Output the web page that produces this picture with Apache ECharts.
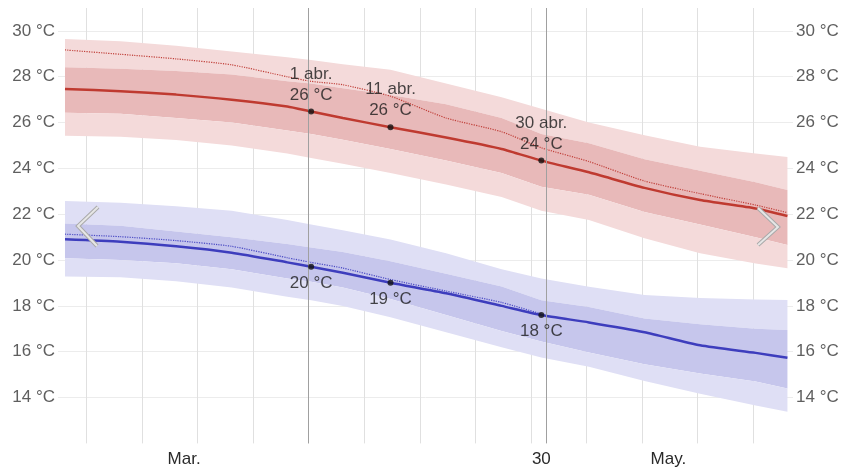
<!DOCTYPE html>
<html><head><meta charset="utf-8">
<script src="https://cdn.jsdelivr.net/npm/echarts@6/dist/echarts.min.js"></script>
<style>html,body{margin:0;padding:0;background:#fff}#c{width:846px;height:471px}</style>
</head><body><div id="c"></div>
<script>
// days relative to 1 abr.
const days = [-31,-24,-17,-10,-3,0,4,10,17,24,29,35,42,49,56,60];
// daily high temperature (°C)
const highP90  = [29.65,29.55,29.35,29.1,28.85,28.73,28.55,28.3,27.7,27.1,26.6,26.0,25.45,24.95,24.65,24.5];
const highP75  = [28.41,28.35,28.25,28.1,27.8,27.7,27.5,27.2,26.8,26.2,25.5,25.1,24.4,23.9,23.4,23.06];
const highMean = [27.47,27.37,27.22,27.0,26.7,26.48,26.2,25.8,25.35,24.85,24.34,23.83,23.15,22.62,22.25,21.92];
const highP25  = [26.43,26.38,26.2,26.0,25.65,25.5,25.25,24.85,24.35,23.8,23.2,22.85,22.1,21.55,21.0,20.66];
const highP10  = [25.43,25.38,25.24,25.0,24.65,24.45,24.2,23.8,23.3,22.75,22.15,21.75,20.95,20.3,19.85,19.64];
const highDot  = [29.17,28.98,28.78,28.52,28.0,27.8,27.65,27.15,26.2,25.6,24.9,24.3,23.45,22.9,22.4,22.07];
// daily low temperature (°C)
const lowP90  = [22.58,22.5,22.35,22.15,21.75,21.55,21.3,20.9,20.3,19.6,19.2,18.84,18.48,18.35,18.28,18.26];
const lowP75  = [21.6,21.5,21.25,21.0,20.7,20.55,20.35,19.95,19.4,18.85,18.25,17.95,17.45,17.2,17.0,16.95];
const lowMean = [20.91,20.8,20.6,20.32,19.9,19.71,19.45,19.01,18.55,18.0,17.6,17.28,16.85,16.28,15.95,15.74];
const lowP25  = [20.08,20.0,19.86,19.6,19.2,19.05,18.8,18.3,17.6,16.9,16.45,15.97,15.45,15.05,14.7,14.4];
const lowP10  = [19.28,19.25,19.08,18.8,18.4,18.25,18.0,17.5,16.85,16.2,15.75,15.35,14.72,14.17,13.65,13.38];
const lowDot  = [21.13,21.02,20.85,20.6,20.1,19.9,19.65,19.15,18.65,18.15,17.65,null,null,null,null,null];
// annotations
const markDays = [0, 10, 29];
const markNames = ['1 abr.', '11 abr.', '30 abr.'];
// axes
const weekTicks = [-28.3,-21.3,-14.3,-7.3,-0.3,6.7,13.7,20.7,27.7,34.7,41.7,48.7,55.7];
const highlightDays = [-0.3, 29.6];
const xLabelDays = [-16, 29, 45];
const xLabelTexts = ['Mar.', '30', 'May.'];
const yMin = 12, yMax = 31, yStep = 2, yLabelMin = 14, yLabelMax = 30;

const FONT = '"Liberation Sans", Arial, sans-serif';
const pairs = (arr) => days.map((d, i) => [d, arr[i]]).filter(p => p[1] !== null);

function band(upper, lower, color) {
  return {
    type: 'custom', silent: true, z: 1,
    data: [[0, 0]],
    renderItem: (params, api) => {
      const top = days.map((d, i) => api.coord([d, upper[i]]));
      const bot = days.map((d, i) => api.coord([d, lower[i]])).reverse();
      return { type: 'polygon', shape: { points: top.concat(bot) }, style: { fill: color } };
    }
  };
}
function line(arr, color, width, type) {
  return {
    type: 'line', data: pairs(arr), showSymbol: false, smooth: 0.2, silent: true, z: 3,
    lineStyle: { color: color, width: width, type: type || 'solid' }
  };
}
function dots(arr, above, withDate) {
  return {
    type: 'scatter', z: 5, silent: true, symbolSize: 6,
    itemStyle: { color: '#111' },
    data: markDays.map((d, k) => {
      const v = arr[days.indexOf(d)];
      return { value: [d, v], name: withDate ? markNames[k] : '' };
    }),
    label: {
      show: true, position: above ? 'top' : 'bottom', distance: 3,
      fontFamily: FONT, fontSize: 17, lineHeight: 21, color: '#1a1a1a',
      formatter: p => (p.name ? p.name + '\n' : '') + Math.round(p.value[1]) + ' °C'
    }
  };
}

const yLabel = {
  fontFamily: FONT, fontSize: 17, color: '#5f5f5f', margin: 3,
  formatter: v => (v >= yLabelMin && v <= yLabelMax) ? v + ' °C' : ''
};

const chart = echarts.init(document.getElementById('c'));
chart.setOption({
  animation: false,
  backgroundColor: '#fff',
  grid: { left: 58, right: 53, top: 8, height: 435.4 },
  xAxis: {
    type: 'value', min: -31.88, max: 60.7,
    axisLine: { show: false },
    axisTick: { show: false, customValues: weekTicks },
    splitLine: { show: true, lineStyle: { color: '#e0e0e0', width: 1 } },
    axisLabel: {
      customValues: xLabelDays, fontFamily: FONT, fontSize: 17, color: '#2a2a2a', margin: 7,
      formatter: v => xLabelTexts[xLabelDays.indexOf(v)] || ''
    }
  },
  yAxis: [
    { type: 'value', min: yMin, max: yMax, interval: yStep, position: 'left',
      axisLine: { show: false }, axisTick: { show: false },
      splitLine: { show: true, showMinLine: false, showMaxLine: false, lineStyle: { color: '#ececec' } },
      axisLabel: yLabel },
    { type: 'value', min: yMin, max: yMax, interval: yStep, position: 'right',
      axisLine: { show: false }, axisTick: { show: false }, splitLine: { show: false },
      axisLabel: yLabel }
  ],
  series: [
    band(highP90, highP75, '#f4dada'),
    band(highP75, highP25, '#e8b9b9'),
    band(highP25, highP10, '#f4dada'),
    band(lowP90, lowP75, '#dfdff5'),
    band(lowP75, lowP25, '#c6c6ec'),
    band(lowP25, lowP10, '#dfdff5'),
    Object.assign(line(highDot, '#c0403a', 1.2, 'dotted'), {
      markLine: { silent: true, symbol: 'none', label: { show: false },
        lineStyle: { color: '#a0a0a0', width: 1, type: 'solid' },
        data: highlightDays.map(d => ({ xAxis: d })) }
    }),
    line(lowDot, '#4a4ac4', 1.2, 'dotted'),
    line(highMean, '#bf3a30', 2.5),
    line(lowMean, '#3d3dbd', 2.5),
    dots(highMean, true, true),
    dots(lowMean, false, false)
  ],
  graphic: [
    { type: 'polyline', shape: { points: [[98, 207], [78, 226], [97, 246]] }, style: { stroke: '#a9a9a9', lineWidth: 4, fill: null }, z: 100 },
    { type: 'polyline', shape: { points: [[98, 207], [78, 226], [97, 246]] }, style: { stroke: '#e6e6e6', lineWidth: 2, fill: null }, z: 101 },
    { type: 'polyline', shape: { points: [[758, 208], [778, 227], [758, 245]] }, style: { stroke: '#a9a9a9', lineWidth: 4, fill: null }, z: 100 },
    { type: 'polyline', shape: { points: [[758, 208], [778, 227], [758, 245]] }, style: { stroke: '#e6e6e6', lineWidth: 2, fill: null }, z: 101 }
  ]
});
</script></body></html>
